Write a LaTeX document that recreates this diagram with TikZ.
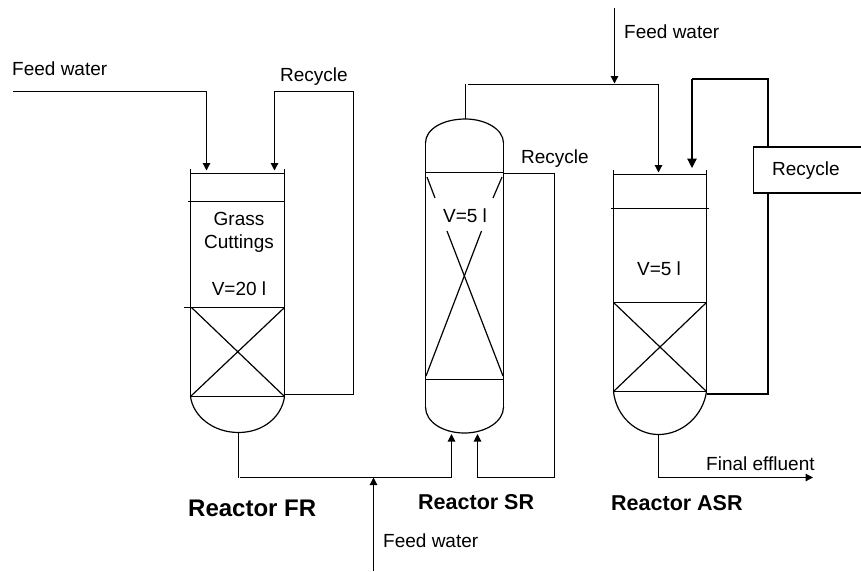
\documentclass[tikz,border=0pt]{standalone}
\usepackage{fontspec}
\setmainfont{Liberation Sans}
\usetikzlibrary{arrows.meta,calc,positioning}

\tikzset{
    pipe/.style={line width=1.2pt,-{Triangle[length=7.5pt,width=7.5pt]}},
    wall/.style={line width=1.2pt},
    heavy/.style={line width=2pt},
    tag/.style={inner sep=0pt,anchor=base west,font=\fontsize{19}{19}\selectfont},
    inlabel/.style={inner sep=0pt,anchor=base,font=\fontsize{19}{19}\selectfont},
}

\begin{document}
\begin{tikzpicture}[x=1pt,y=-1pt]
    \useasboundingbox (0,0) rectangle (861,571);
    % Reactor FR
    \coordinate (FA) at (190.5,169);
    \coordinate (FB) at (284.5,169);
    \coordinate (FC) at (190.5,396.5);
    \coordinate (FD) at (284.5,396.5);
    \coordinate (FE) at (238.5,432.5);
    \draw[wall] (FA)--(FC);
    \draw[wall] (FB)--(FD);
    \draw[wall] (190.5,173.5)--(284.5,173.5);
    \draw[wall] (188,201.5)--(284.5,201.5);
    \draw[wall] (183.5,307.5)--(284.5,307.5);
    \draw[wall] (191.5,307.5)--(FD) (284.5,307.5)--(FC);
    \draw[wall] (FC)--(FD);
    \draw[wall] (FC) .. controls (193,416) and (213,432.5) .. (FE) .. controls (264,432.5) and (282,416) .. (FD);
    % Reactor SR
    \coordinate (SA) at (425.5,143);
    \coordinate (SB) at (503.5,143);
    \coordinate (SC) at (425.5,407);
    \coordinate (SD) at (503.5,407);
    \coordinate (ST) at (465.5,119);
    \coordinate (SE) at (464.5,433);
    \draw[wall] (SA)--(SC);
    \draw[wall] (SB)--(SD);
    \draw[wall] (SA) .. controls (425.5,129) and (443,119) .. (ST) .. controls (485,119) and (503.5,129) .. (SB);
    \draw[wall] (SC) .. controls (425.5,422) and (443,433) .. (SE) .. controls (485,433) and (503.5,422) .. (SD);
    \draw[wall] (SA|-0,172.5)--(SB|-0,172.5);
    \draw[wall] (SC|-0,379.5)--(SD|-0,379.5);
    \draw[wall] (427,177)--(435,198);
    \draw[wall] (447,231)--(503,376);
    \draw[wall] (502,177)--(493,198);
    \draw[wall] (481.5,231)--(426,376);
    % Reactor ASR
    \coordinate (AA) at (613.5,170);
    \coordinate (AB) at (706.5,170);
    \coordinate (AC) at (613.5,391.5);
    \coordinate (AD) at (706.5,391.5);
    \coordinate (AE) at (658.5,434.5);
    \draw[wall] (AA)--(AC);
    \draw[wall] (AB)--(AD);
    \draw[wall] (AA|-0,174.5)--(AB|-0,174.5);
    \draw[wall] (611,208.5)--(709,208.5);
    \draw[wall] (AA|-0,302.5)--(AB|-0,302.5);
    \draw[wall] (AA|-0,302.5)--(AD) (AB|-0,302.5)--(AC);
    \draw[wall] (AC)--(AD);
    \draw[wall] (AC) .. controls (616,416) and (636,434.5) .. (AE) .. controls (682,434.5) and (703,416) .. (AD);
    % Feed lines
    \coordinate (P1) at (13,91.5);
    \coordinate (P2) at (206.5,91.5);
    \coordinate (P3) at (206.5,170.5);
    \draw[pipe] (P1)--(P2)--(P3);
    \coordinate (Q1) at (614.5,8);
    \coordinate (Q2) at (614.5,83.5);
    \draw[pipe] (Q1)--(Q2);
    \coordinate (W1) at (373.5,571);
    \coordinate (W2) at (373.5,477.5);
    \draw[pipe] (W1)--(W2);
    % Recycle of FR
    \coordinate (R1) at (285,394.5);
    \coordinate (R2) at (353.5,394.5);
    \coordinate (R3) at (353.5,91.5);
    \coordinate (R4) at (274.5,91.5);
    \coordinate (R5) at (274.5,170.5);
    \draw[pipe] (R1)--(R2)--(R3)--(R4)--(R5);
    % FR to SR
    \coordinate (L1) at (240,477.5);
    \coordinate (L2) at (451.5,477.5);
    \coordinate (L3) at (451.5,434);
    \draw[wall] (FE)--(238.5,478);
    \draw[pipe] (L1)--(L2)--(L3);
    % Recycle of SR
    \coordinate (M1) at (503.5,173.5);
    \coordinate (M2) at (554.5,173.5);
    \coordinate (M3) at (554.5,477.5);
    \coordinate (M4) at (477.5,477.5);
    \coordinate (M5) at (477.5,434);
    \draw[pipe] (M1)--(M2)--(M3)--(M4)--(M5);
    % SR to ASR
    \coordinate (N1) at (468,84.5);
    \coordinate (N2) at (658.5,84.5);
    \coordinate (N3) at (658.5,172.5);
    \draw[wall] (ST)--(465.5,84);
    \draw[pipe] (N1)--(N2)--(N3);
    % Recycle of ASR
    \node[draw,line width=1.6pt,minimum width=112pt,minimum height=46pt,inner sep=0pt,anchor=north west] (recbox) at (752.5,146) {};
    \coordinate (C0) at (recbox.north-|768,0);
    \coordinate (C1) at (768,79);
    \coordinate (C2) at (692,79);
    \coordinate (C3) at (692,168);
    \coordinate (C4) at (recbox.south-|768,0);
    \coordinate (C5) at (768,394);
    \coordinate (C6) at (706.5,394);
    \draw[heavy] (C0)--(C1)--(C2);
    \draw[wall,-{Triangle[length=9.5pt,width=9.5pt]}] (C2)--(C3);
    \draw[heavy] (C4)--(C5)--(C6);
    % Effluent
    \coordinate (E1) at (658.5,477.5);
    \coordinate (E2) at (813,477.5);
    \draw[pipe] (AE)--(E1)--(E2);
    % Labels
    \node[tag] (feedleft) at (12,75.5) {Feed water};
    \node[tag] (feedtop) at (624,38.5) {Feed water};
    \node[tag] (feedbottom) at (383,547.5) {Feed water};
    \node[tag] (recyclefr) at (280,81.5) {Recycle};
    \node[tag] (recyclesr) at (521,163) {Recycle};
    \node[tag] (recycleasr) at (772,175) {Recycle};
    \node[tag] (effluent) at (706,470) {Final effluent};
    \node[inlabel] (grass) at (239,225) {Grass};
    \node[inlabel] (cuttings) at (239,248) {Cuttings};
    \node[inlabel] (volfr) at (239,295) {V=20 l};
    \node[inlabel] (volsr) at (465,222) {V=5 l};
    \node[inlabel] (volasr) at (659,275) {V=5 l};
    \node[tag,font=\fontsize{24}{24}\selectfont\bfseries] (namefr) at (188,516) {Reactor FR};
    \node[tag,font=\fontsize{21.5}{21.5}\selectfont\bfseries] (namesr) at (418,509) {Reactor SR};
    \node[tag,font=\fontsize{21.5}{21.5}\selectfont\bfseries] (nameasr) at (611,510) {Reactor ASR};
\end{tikzpicture}
\end{document}
